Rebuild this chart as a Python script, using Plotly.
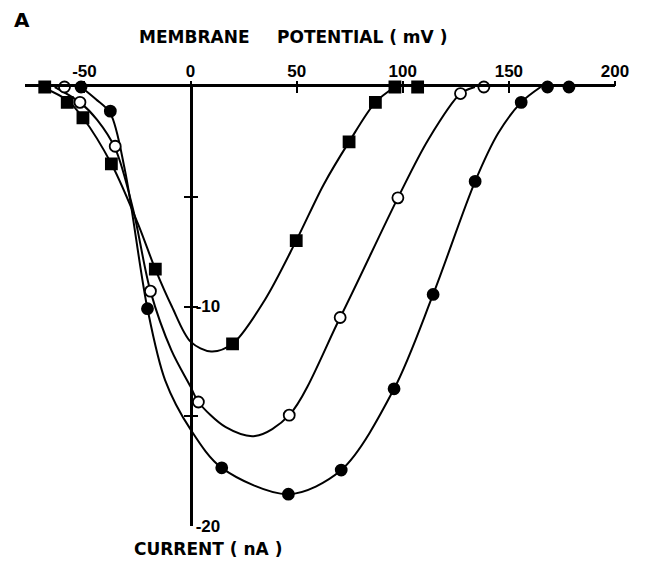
"""Courbes courant-tension (figure A) : trois séries mesurées + courbes ajustées."""

import plotly.graph_objects as go

# -- Données ----------------------------------------------------------------

# Points mesurés (mV, nA)
square_v = [-68.7, -58.1, -50.7, -37.3, -16.6, 19.8, 49.8, 74.7, 87.1, 96.3, 107.0]
square_i = [0.0, -0.7, -1.4, -3.5, -8.3, -11.7, -7.0, -2.5, -0.7, 0.0, 0.0]

open_v = [-59.4, -52.1, -35.5, -18.9, 3.7, 46.5, 70.5, 97.7, 127.2, 138.2]
open_i = [0.0, -0.7, -2.7, -9.3, -14.35, -14.95, -10.5, -5.05, -0.3, 0.0]

filled_v = [-51.6, -37.8, -20.3, 14.7, 46.1, 71.0, 95.9, 114.3, 134.1, 155.8, 168.2, 178.3]
filled_i = [0.0, -1.1, -10.1, -17.35, -18.55, -17.45, -13.75, -9.45, -4.3, -0.7, 0.0, 0.0]

# Courbes ajustées (suivies à la main sur l'original)
square_fit_v = [-70.0, -58.1, -50.7, -37.3, -24.9, -16.6, -8.8, 0.0, 9.7, 19.8,
                35.0, 49.8, 62.7, 74.7, 87.1, 96.3]
square_fit_i = [0.0, -0.6, -1.4, -3.5, -6.2, -8.3, -10.0, -11.6, -12.05, -11.7,
                -9.7, -7.0, -4.45, -2.5, -0.7, 0.0]

open_fit_v = [-64.0, -52.1, -44.0, -35.5, -27.0, -18.9, -9.0, 0.0, 3.7, 16.6, 30.4,
              46.5, 70.5, 97.7, 112.0, 127.2, 134.0]
open_fit_i = [0.0, -0.7, -1.5, -2.8, -5.6, -9.3, -12.0, -13.65, -14.35, -15.5, -15.9,
              -14.95, -10.5, -5.05, -2.4, -0.3, 0.0]

filled_fit_v = [-51.6, -44.7, -37.8, -30.9, -20.3, -12.0, 0.0, 14.7, 46.1, 71.0,
                95.9, 114.3, 134.1, 145.0, 155.8, 165.0]
filled_fit_i = [0.0, -0.55, -1.2, -3.8, -10.1, -13.35, -15.6, -17.35, -18.55, -17.45,
                -13.75, -9.45, -4.3, -2.1, -0.7, 0.0]

x_ticks = [-50, 0, 50, 100, 150, 200]
x_ticktext = ["-50", "0", "50", "100", "150", "200"]
y_ticks = [-5, -10, -15, -20]
y_ticktext = ["", "-10", "", "-20"]

X_RANGE = [-78, 200]
Y_RANGE = [-20, 0]

FONT = "DejaVu Sans"
TICK_FONT = "Liberation Sans"
INK = "black"

# position de l'axe vertical (x = 0) en coordonnées papier
y_axis_pos = (0 - X_RANGE[0]) / (X_RANGE[1] - X_RANGE[0])


def _fit_line(v, i, **kw):
    return go.Scatter(
        x=v, y=i, mode="lines",
        line={"color": INK, "width": 2, "shape": "spline", "smoothing": 0.9},
        hoverinfo="skip", showlegend=False, **kw,
    )


def _points(v, i, symbol, fill):
    return go.Scatter(
        x=v, y=i, mode="markers",
        marker={"symbol": symbol, "size": 11, "color": fill,
                "line": {"color": INK, "width": 1.8}},
        cliponaxis=False, showlegend=False,
    )


fig = go.Figure()
fig.add_trace(_fit_line(square_fit_v, square_fit_i, xaxis="x2", yaxis="y2"))
fig.add_trace(_fit_line(open_fit_v, open_fit_i))
fig.add_trace(_fit_line(filled_fit_v, filled_fit_i))
fig.add_trace(_points(square_v, square_i, "square", INK))
fig.add_trace(_points(open_v, open_i, "circle", "white"))
fig.add_trace(_points(filled_v, filled_i, "circle", INK))

# police plus étroite pour les graduations : « 200 » tient dans la figure
tick_font = {"family": TICK_FONT, "size": 17, "color": INK, "weight": "bold"}

# la page HTML ajoute 8 px de marge autour du <body> : figure réduite d'autant
fig.update_layout(
    width=633, height=559,
    margin={"l": 17, "r": 16, "t": 79, "b": 41},
    paper_bgcolor="white", plot_bgcolor="white",
    xaxis={
        "range": X_RANGE, "side": "top", "anchor": "y",
        "showline": True, "linecolor": INK, "linewidth": 2.5,
        "ticks": "inside", "ticklen": 6, "tickwidth": 2, "tickcolor": INK,
        "tickmode": "array", "tickvals": x_ticks, "ticktext": x_ticktext,
        "tickfont": tick_font, "showgrid": False, "zeroline": False,
    },
    xaxis2={
        "range": X_RANGE, "overlaying": "x", "side": "top", "anchor": "y",
        "showline": False, "ticks": "outside", "ticklen": 5, "tickwidth": 2,
        "tickcolor": INK, "tickmode": "array", "tickvals": x_ticks,
        "showticklabels": False, "showgrid": False, "zeroline": False,
    },
    yaxis={
        "range": Y_RANGE, "anchor": "free", "position": y_axis_pos,
        "side": "right",
        "showline": True, "linecolor": INK, "linewidth": 2.5,
        "ticks": "inside", "ticklen": 6, "tickwidth": 2, "tickcolor": INK,
        "tickmode": "array", "tickvals": y_ticks, "ticktext": y_ticktext,
        "tickfont": tick_font, "showgrid": False, "zeroline": False,
    },
    yaxis2={
        "range": Y_RANGE, "overlaying": "y", "anchor": "free",
        "position": y_axis_pos, "side": "left",
        "showline": False, "ticks": "inside", "ticklen": 6, "tickwidth": 2,
        "tickcolor": INK, "tickmode": "array", "tickvals": y_ticks,
        "showticklabels": False, "showgrid": False, "zeroline": False,
    },
)

label_font = {"family": FONT, "size": 17, "color": INK, "weight": "bold"}
for text, x, y, size in [
    ("A", -0.005, 1.153, 20),
    ("MEMBRANE", 0.288, 1.113, 17),
    ("POTENTIAL ( mV )", 0.571, 1.113, 17),
    ("CURRENT ( nA )", 0.311, -0.052, 17),
]:
    fig.add_annotation(
        text=text, xref="paper", yref="paper", x=x, y=y,
        xanchor="center", yanchor="middle",
        showarrow=False, font={**label_font, "size": size},
    )

fig.write_html("out.html")
